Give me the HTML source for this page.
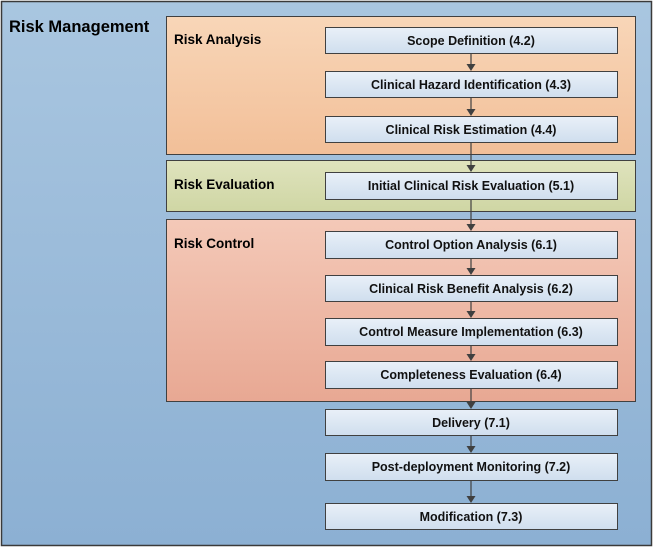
<!DOCTYPE html>
<html><head><meta charset="utf-8"><style>
html,body{margin:0;padding:0;background:#fff;}
svg text{font-family:"Liberation Sans",sans-serif;font-weight:bold;}
</style></head><body>
<svg width="653" height="548" viewBox="0 0 653 548" xmlns="http://www.w3.org/2000/svg">
<defs>
<linearGradient id="bg" x1="0" y1="0" x2="0" y2="1"><stop offset="0" stop-color="#a9c6e0"/><stop offset="1" stop-color="#8cb0d3"/></linearGradient>
<linearGradient id="ra" x1="0" y1="0" x2="0" y2="1"><stop offset="0" stop-color="#f8d6b8"/><stop offset="1" stop-color="#f2bf98"/></linearGradient>
<linearGradient id="re" x1="0" y1="0" x2="0" y2="1"><stop offset="0" stop-color="#dfe3bd"/><stop offset="1" stop-color="#cfd6a4"/></linearGradient>
<linearGradient id="rc" x1="0" y1="0" x2="0" y2="1"><stop offset="0" stop-color="#f4c9b8"/><stop offset="1" stop-color="#e8a893"/></linearGradient>
<linearGradient id="bx" x1="0" y1="0" x2="0" y2="1"><stop offset="0" stop-color="#e9f0f8"/><stop offset="1" stop-color="#cfdeee"/></linearGradient>
</defs>
<rect x="1.5" y="1.5" width="650" height="544" fill="url(#bg)" stroke="#3a3a3a" stroke-width="1.5"/>
<text x="9" y="32" font-size="16.5" fill="#000">Risk Management</text>
<rect x="166.5" y="16.5" width="469" height="138" fill="url(#ra)" stroke="#404040"/>
<rect x="166.5" y="160.5" width="469" height="51" fill="url(#re)" stroke="#404040"/>
<rect x="166.5" y="219.5" width="469" height="182" fill="url(#rc)" stroke="#404040"/>
<text x="174" y="44" font-size="13.5">Risk Analysis</text>
<text x="174" y="189" font-size="13.5">Risk Evaluation</text>
<text x="174" y="248" font-size="13.5">Risk Control</text>
<g stroke="#404040" stroke-width="1.2">
<line x1="471" y1="53" x2="471" y2="66"/>
<line x1="471" y1="97" x2="471" y2="111"/>
<line x1="471" y1="142" x2="471" y2="167"/>
<line x1="471" y1="199" x2="471" y2="226"/>
<line x1="471" y1="258" x2="471" y2="270"/>
<line x1="471" y1="301" x2="471" y2="313"/>
<line x1="471" y1="345" x2="471" y2="356"/>
<line x1="471" y1="388" x2="471" y2="404"/>
<line x1="471" y1="435" x2="471" y2="448"/>
<line x1="471" y1="480" x2="471" y2="498"/>
</g>
<g fill="#404040">
<polygon points="466.5,64 475.5,64 471,71"/>
<polygon points="466.5,109 475.5,109 471,116"/>
<polygon points="466.5,165 475.5,165 471,172"/>
<polygon points="466.5,224 475.5,224 471,231"/>
<polygon points="466.5,268 475.5,268 471,275"/>
<polygon points="466.5,311 475.5,311 471,318"/>
<polygon points="466.5,354 475.5,354 471,361"/>
<polygon points="466.5,402 475.5,402 471,409"/>
<polygon points="466.5,446 475.5,446 471,453"/>
<polygon points="466.5,496 475.5,496 471,503"/>
</g>
<g fill="url(#bx)" stroke="#404040">
<rect x="325.5" y="27.5" width="292" height="26"/>
<rect x="325.5" y="71.5" width="292" height="26"/>
<rect x="325.5" y="116.5" width="292" height="26"/>
<rect x="325.5" y="172.5" width="292" height="27"/>
<rect x="325.5" y="231.5" width="292" height="27"/>
<rect x="325.5" y="275.5" width="292" height="26"/>
<rect x="325.5" y="318.5" width="292" height="27"/>
<rect x="325.5" y="361.5" width="292" height="27"/>
<rect x="325.5" y="409.5" width="292" height="26"/>
<rect x="325.5" y="453.5" width="292" height="27"/>
<rect x="325.5" y="503.5" width="292" height="26"/>
</g>
<g font-size="12.5" text-anchor="middle" fill="#111">
<text x="471" y="45">Scope Definition (4.2)</text>
<text x="471" y="89">Clinical Hazard Identification (4.3)</text>
<text x="471" y="134">Clinical Risk Estimation (4.4)</text>
<text x="471" y="190">Initial Clinical Risk Evaluation (5.1)</text>
<text x="471" y="249">Control Option Analysis (6.1)</text>
<text x="471" y="293">Clinical Risk Benefit Analysis (6.2)</text>
<text x="471" y="336">Control Measure Implementation (6.3)</text>
<text x="471" y="379">Completeness Evaluation (6.4)</text>
<text x="471" y="427">Delivery (7.1)</text>
<text x="471" y="471">Post-deployment Monitoring (7.2)</text>
<text x="471" y="521">Modification (7.3)</text>
</g>
</svg>
</body></html>
